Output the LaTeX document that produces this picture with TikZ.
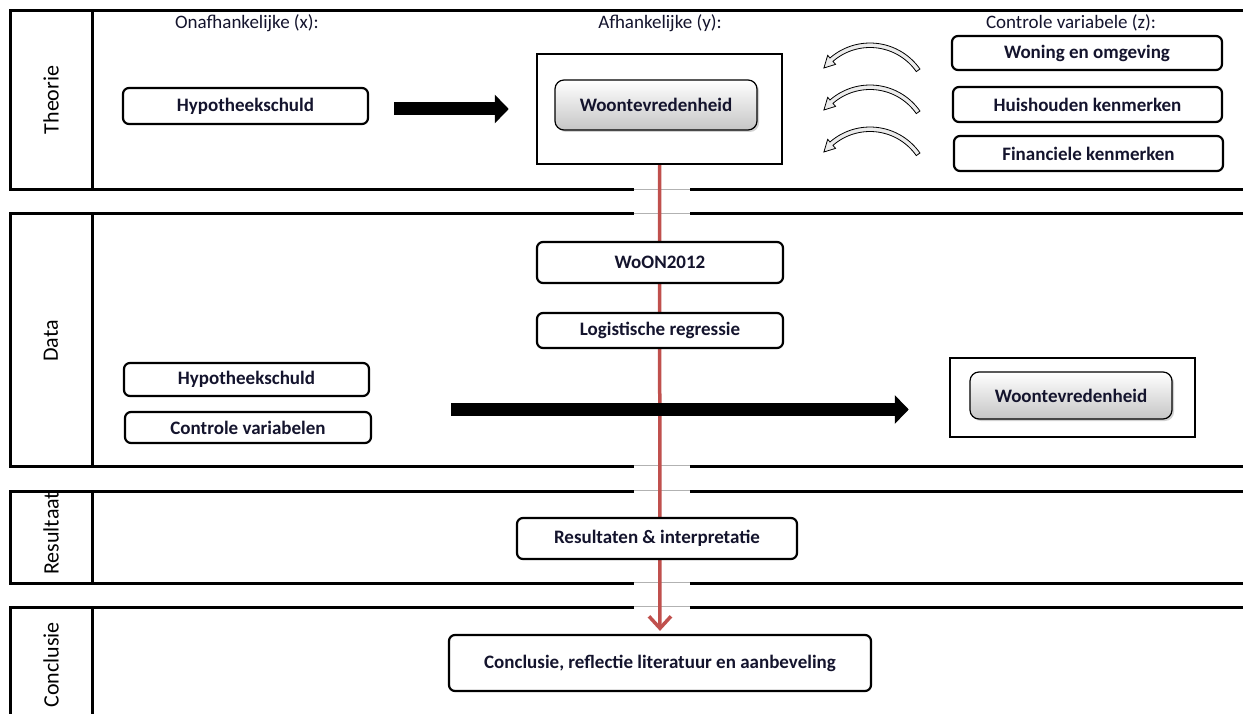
\documentclass[tikz,border=0pt]{standalone}
\usepackage{fontspec}
\setmainfont{Carlito}
\usetikzlibrary{arrows.meta,shadows,calc}
\definecolor{textc}{RGB}{20,20,45}
\definecolor{redc}{RGB}{192,80,77}
\newcommand\myCurvArrow[2]{%
  \filldraw[curv] plot[domain=-35:-131,samples=30] ({#1+61*cos(\x)},{#2+61*sin(\x)})
    -- ({#1+64.5*cos(-131)},{#2+64.5*sin(-131)})
    -- ({#1+58.5*cos(-142)},{#2+58.5*sin(-142)})
    -- ({#1+52.5*cos(-131)},{#2+52.5*sin(-131)})
    -- plot[domain=-131:-35,samples=30] ({#1+56.5*cos(\x)},{#2+56.5*sin(\x)}) -- cycle;}
\begin{document}
\begin{tikzpicture}[x=1pt,y=-1pt,
  lane/.style={line width=3, line join=miter},
  gapl/.style={line width=1.2, draw=gray!60},
  rbox/.style={draw, line width=2.2, rounded corners=6, fill=white, inner sep=0,
    font=\bfseries\fontsize{19}{22}\selectfont, text=textc, align=center},
  gbox/.style={draw, line width=1.2, rounded corners=9, top color=white, bottom color=gray!45,
    drop shadow={opacity=0.35, shadow xshift=2pt, shadow yshift=-2pt}, inner sep=0,
    font=\bfseries\fontsize{19}{22}\selectfont, text=textc},
  obox/.style={draw, line width=2.5, fill=white, inner sep=0},
  head/.style={font=\fontsize{19}{22}\selectfont, text=textc},
  lanelabel/.style={font=\fontsize{22}{26}\selectfont, text=black, rotate=90, inner sep=0},
  fat/.style={line width=13, -{Triangle[length=14pt,width=28pt]}},
  redarrow/.style={draw=redc, line width=3.5, -{Straight Barb[length=12pt,width=22pt]}},
  curv/.style={draw=black, line width=0.8, fill=gray!15}
]
\useasboundingbox (0,0) rectangle (1243,714);
\fill[white] (0,0) rectangle (1243,714);

% ---- lanes ----
\draw[lane] (1245,11) -- (10,11) -- (10,190) -- (634,190);
\draw[lane] (690,190) -- (1245,190);
\draw[lane] (92,11) -- (92,190);
\draw[lane] (634,214) -- (10,214) -- (10,466) -- (634,466);
\draw[lane] (690,214) -- (1245,214);
\draw[lane] (690,466) -- (1245,466);
\draw[lane] (92,214) -- (92,466);
\draw[lane] (634,491) -- (10,491) -- (10,583) -- (634,583);
\draw[lane] (690,491) -- (1245,491);
\draw[lane] (690,583) -- (1245,583);
\draw[lane] (92,491) -- (92,583);
\draw[lane] (634,607) -- (10,607) -- (10,716);
\draw[lane] (690,607) -- (1245,607);
\draw[lane] (92,607) -- (92,716);
\foreach \yy in {190,214,466,491,583,607}
  \draw[gapl] (634,\yy-0.8) -- (690,\yy-0.8);

% ---- lane labels ----
\node[lanelabel] (lT) at (51,100) {Theorie};
\node[lanelabel] (lD) at (51,341) {Data};
\begin{scope}
  \clip (10,492) rectangle (92,583);
  \node[lanelabel, anchor=west] (lR) at (51,575) {Resultaat};
\end{scope}
\node[lanelabel] (lC) at (51,665) {Conclusie};

% ---- headings ----
\node[head] (hx) at (247,23) {Onafhankelijke (x):};
\node[head] (hy) at (660,23) {Afhankelijke (y):};
\node[head] (hz) at (1071,23) {Controle variabele (z):};

% ---- red flow line (behind boxes) ----
\node[obox, minimum width=245, minimum height=110] (afh) at (659.5,109) {};
\node[rbox, minimum width=422, minimum height=56] (concl) at (660,663)
  {Conclusie, reflectie literatuur en aanbeveling};
\draw[redarrow, shorten >=3] (afh.south) -- (concl.north);

% ---- Theorie ----
\node[gbox, minimum width=202, minimum height=50] (woon1) at (656,105) {Woontevredenheid};
\node[rbox, minimum width=245, minimum height=36] (hyp1) at (245.5,106) {Hypotheekschuld};
\draw[fat] ([xshift=25]hyp1.east |- afh.west) -- ([xshift=-27]afh.west);
\node[rbox, minimum width=270, minimum height=34] (z1) at (1087,53) {Woning en omgeving};
\node[rbox, minimum width=269, minimum height=35] (z2) at (1087.5,104.5) {Huishouden kenmerken};
\node[rbox, minimum width=269, minimum height=35] (z3) at (1088.5,153.5) {Financiele kenmerken};
\myCurvArrow{870}{104}
\myCurvArrow{870}{146}
\myCurvArrow{870}{188}

% ---- Data ----
\coordinate (dstart) at (451,409.5);
\node[obox, minimum width=245, minimum height=79] (afh2) at (1072.5,397.5) {};
\node[gbox, minimum width=202, minimum height=47] (woon2) at (1071,395.5) {Woontevredenheid};
\draw[fat] (dstart) -- ([xshift=-40]dstart -| afh2.west);
\node[rbox, minimum width=246, minimum height=41] (woonON) at (660,262.5) {WoON2012};
\node[rbox, minimum width=246, minimum height=35] (logreg) at (660,330.5) {Logistische regressie};
\node[rbox, minimum width=245, minimum height=33] (hyp2) at (246.5,379.5) {Hypotheekschuld};
\node[rbox, minimum width=246, minimum height=31] (cv) at (248,427.5) {Controle variabelen};

% ---- Resultaat ----
\node[rbox, minimum width=280, minimum height=41] (res) at (657,538.5) {Resultaten \& interpretatie};
\end{tikzpicture}
\end{document}
